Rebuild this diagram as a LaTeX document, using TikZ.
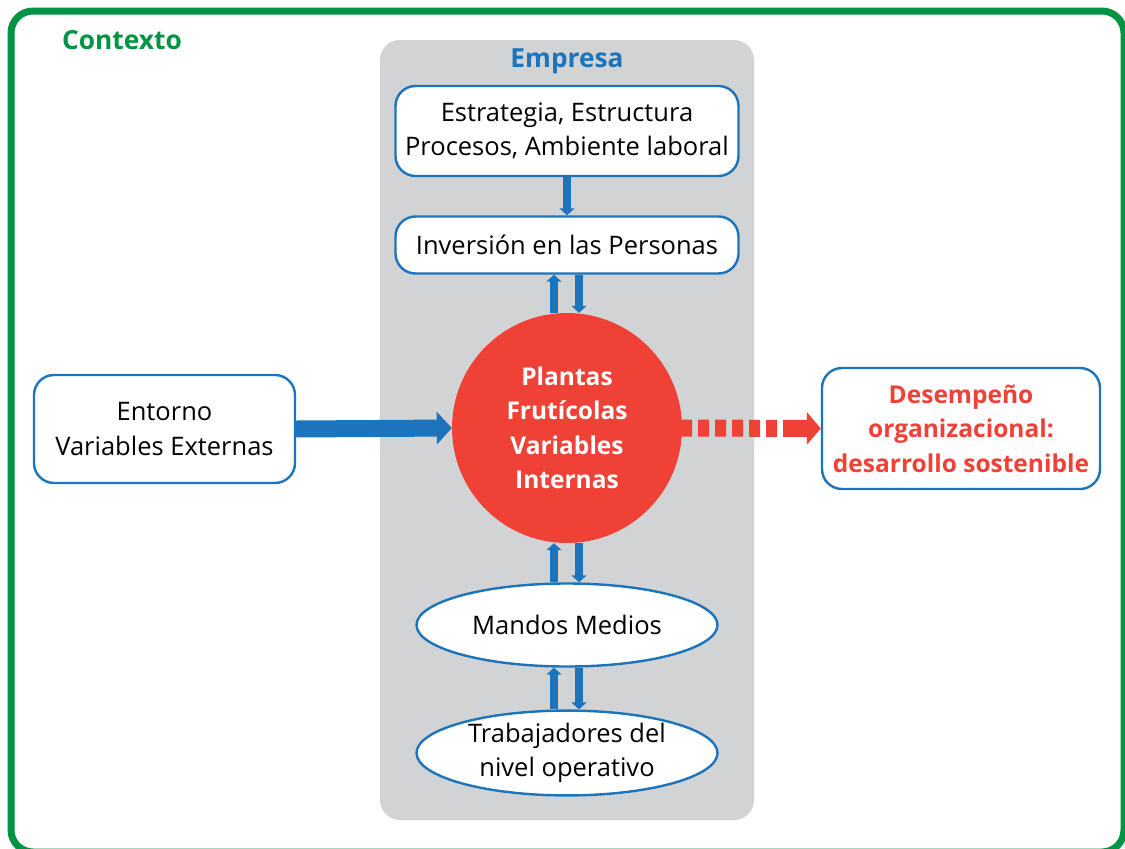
\documentclass[tikz,border=0pt]{standalone}
\usepackage{fontspec}
\setmainfont{Open Sans}
\usetikzlibrary{shapes.geometric,arrows.meta}

\definecolor{ctxgreen}{RGB}{0,148,68}
\definecolor{empblue}{RGB}{28,117,188}
\definecolor{plantred}{RGB}{239,65,54}
\definecolor{panelgray}{RGB}{209,211,212}

\tikzset{
  box/.style={draw=empblue, line width=2.4pt, fill=white, rounded corners=20pt, align=center, inner sep=0pt, font=\fontsize{25.5}{34.5}\selectfont},
  oval/.style={ellipse, draw=empblue, line width=2.4pt, fill=white, align=center, inner sep=0pt, minimum width=301pt, minimum height=83pt, font=\fontsize{25.5}{34.5}\selectfont},
  flecha/.style={draw=empblue, line width=8pt, -{Triangle[width=15pt,length=7pt]}},
}

\begin{document}
\begin{tikzpicture}[x=1pt,y=-1pt]
\clip (0,0) rectangle (1125,849);
\draw [ctxgreen, line width=7pt, rounded corners=22pt] (11,11) rectangle (1124,852);
\node [text=ctxgreen, font=\fontsize{26.3}{32}\selectfont\bfseries] (ctx) at (122,40) {Contexto};

\node [fill=panelgray, rounded corners=20pt, minimum width=374pt, minimum height=780pt, inner sep=0pt] (panel) at (567,430) {};
\node [text=empblue, font=\fontsize{26.3}{32}\selectfont\bfseries] (emp) at (567,61) {Empresa};

\node [box, minimum width=343pt, minimum height=90pt] (estr) at (567,131) {Estrategia, Estructura\\Procesos, Ambiente laboral};
\node [box, minimum width=343pt, minimum height=57pt] (inv) at (567,245) {Inversión en las Personas};
\node [circle, fill=plantred, minimum size=230pt, inner sep=0pt, align=center, text=white, font=\fontsize{24.5}{34.5}\selectfont\bfseries] (plantas) at (567,428) {Plantas\\Frutícolas\\Variables\\Internas};
\node [oval] (mandos) at (567,625) {Mandos Medios};
\node [oval] (trab) at (567,753) {Trabajadores del\\nivel operativo};

\node [box, minimum width=261pt, minimum height=108pt] (ent) at (164.5,429) {Entorno\\Variables Externas};
\node [box, minimum width=278pt, minimum height=121pt, text=plantred, font=\fontsize{24.5}{34.5}\selectfont\bfseries] (des) at (961,428.5) {Desempeño\\organizacional:\\desarrollo sostenible};

\draw [flecha] (estr.south) -- (inv.north);
\draw [flecha] ([xshift=-13pt]plantas.north) -- ([xshift=-13pt]inv.south);
\draw [flecha] ([xshift=12pt]inv.south) -- ([xshift=12pt]plantas.north);
\draw [flecha] ([xshift=-13pt]mandos.north) -- ([xshift=-13pt]plantas.south);
\draw [flecha] ([xshift=12pt]plantas.south) -- ([xshift=12pt]mandos.north);
\draw [flecha] ([xshift=-13pt]trab.north) -- ([xshift=-13pt]mandos.south);
\draw [flecha] ([xshift=12pt]mandos.south) -- ([xshift=12pt]trab.north);

\draw [empblue, line width=17pt, -{Triangle[width=32pt,length=15pt]}] (ent.east) -- (plantas.west);
\draw [plantred, line width=17pt, dash pattern={on 10pt off 6pt on 11pt off 6pt on 11pt off 6pt on 11pt off 6pt on 11pt off 6pt on 11pt off 6pt on 60pt off 0pt}, -{Triangle[width=32pt,length=14pt]}] (plantas.east) -- (des.west);
\end{tikzpicture}
\end{document}
